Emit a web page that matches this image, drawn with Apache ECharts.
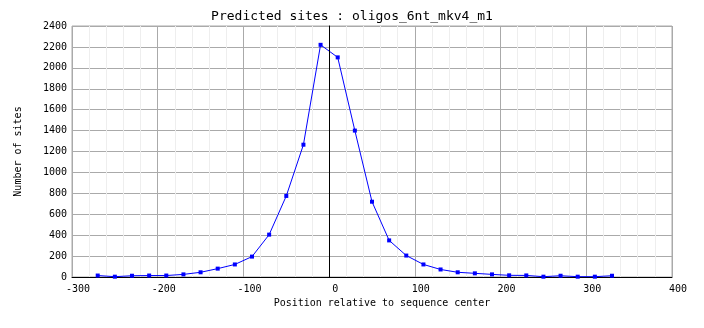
<!DOCTYPE html>
<html>
<head>
<meta charset="utf-8">
<style>
  html, body { margin: 0; padding: 0; background: #ffffff; }
  #chart { width: 704px; height: 328px; }
</style>
<script src="https://cdn.jsdelivr.net/npm/echarts@6/dist/echarts.min.js"></script>
</head>
<body>
<div id="chart"></div>
<script>
// Bin centres (position relative to sequence center) and site counts
const positions = [-270, -250, -230, -210, -190, -170, -150, -130, -110, -90, -70, -50, -30, -10,
                   10, 30, 50, 70, 90, 110, 130, 150, 170, 190, 210, 230, 250, 270, 290, 310, 330];
const siteCounts = [14, 3, 12, 14, 14, 25, 45, 80, 120, 195, 405, 775, 1265, 2220,
                    2100, 1400, 720, 350, 205, 120, 72, 45, 35, 25, 16, 15, 3, 12, 3, 3, 12];

const titleText = 'Predicted sites : oligos_6nt_mkv4_m1';
const xName = 'Position relative to sequence center';
const yName = 'Number of sites';

const mono = '"DejaVu Sans Mono", "Liberation Mono", monospace';

const chart = echarts.init(document.getElementById('chart'), null, { renderer: 'canvas' });

chart.setOption({
  animation: false,
  backgroundColor: '#ffffff',
  title: {
    text: titleText,
    left: 'center',
    top: 10,
    padding: 0,
    textStyle: { fontFamily: mono, fontSize: 13, fontWeight: 'normal', color: '#000000' }
  },
  grid: {
    left: 72, right: 32, top: 26, bottom: 51,
    show: true, borderColor: '#aaaaaa', borderWidth: 1
  },
  xAxis: {
    type: 'value',
    min: -300, max: 400, interval: 100,
    name: xName,
    nameLocation: 'middle',
    nameGap: 20,
    nameTextStyle: { fontFamily: mono, fontSize: 10, color: '#000000', padding: [0, 0, 0, 20] },
    axisLine: { show: true, onZero: false, lineStyle: { color: '#000000', width: 1 } },
    axisTick: { show: false },
    axisLabel: {
      fontFamily: mono, fontSize: 10, color: '#000000', margin: 7, padding: [0, 0, 0, 12],
      formatter: v => String(v)
    },
    splitLine: { show: true, lineStyle: { color: '#aaaaaa', width: 1 } },
    minorTick: { show: false, splitNumber: 5 },
    minorSplitLine: { show: true, lineStyle: { color: '#eeeeee', width: 1 } }
  },
  yAxis: {
    type: 'value',
    min: 0, max: 2400, interval: 200,
    name: yName,
    nameLocation: 'middle',
    nameGap: 49,
    nameTextStyle: { fontFamily: mono, fontSize: 10, color: '#000000' },
    axisLine: { show: true, lineStyle: { color: '#000000', width: 1 } },
    axisTick: { show: false },
    axisLabel: {
      fontFamily: mono, fontSize: 10, color: '#000000', margin: 5, padding: [4, 0, 0, 0],
      formatter: v => String(v)
    },
    splitLine: { show: true, lineStyle: { color: '#aaaaaa', width: 1 } }
  },
  series: [{
    type: 'line',
    data: positions.map((p, i) => [p, siteCounts[i]]),
    symbol: 'rect',
    symbolSize: 4,
    showAllSymbol: true,
    lineStyle: { color: '#0000ff', width: 1 },
    itemStyle: { color: '#0000ff' },
    markLine: {
      silent: true,
      symbol: 'none',
      label: { show: false },
      lineStyle: { color: '#000000', width: 1, type: 'solid' },
      data: [{ xAxis: 0 }]
    },
    z: 3
  }]
});
</script>
</body>
</html>
